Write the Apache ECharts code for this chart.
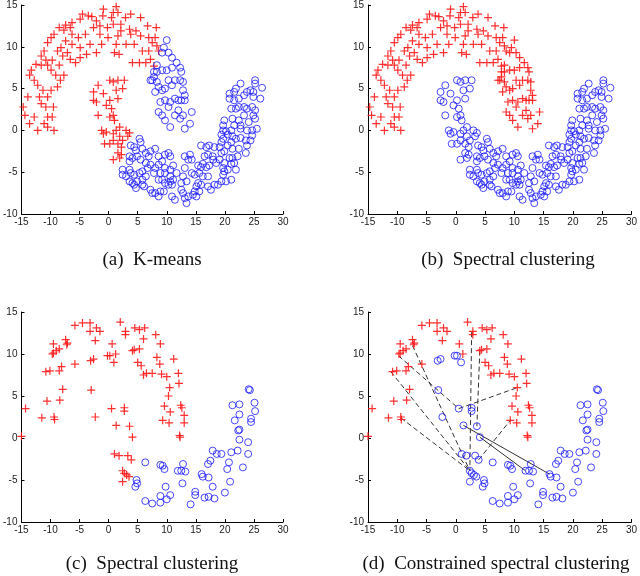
<!DOCTYPE html>
<html>
<head>
<meta charset="utf-8">
<script src="https://cdn.jsdelivr.net/npm/echarts@6/dist/echarts.min.js"></script>
<style>
  html, body { margin: 0; padding: 0; background: #fff; }
  #chart { width: 640px; height: 576px; }
</style>
</head>
<body>
<div id="chart"></div>
<script>
// two-moons data, panels (a) and (b) share the points, only the labels differ
var abUpperLeft = [
  [1.3,14.8],[0.8,14.1],[1.6,14.1],[0.5,13.5],[-0.9,14.5],[-1,13.7],[3.8,13.9],[2.9,13.5],[5.5,13.5],[6.7,12.5],
  [8.2,12.3],[-2.9,13.6],[-3.5,13.7],[-4.5,13.9],[-4.9,13.3],[-6.3,12.9],[-7.4,12.6],[-7.7,12],[-8.5,12.3],[-9.4,11.5],
  [-9.9,11.1],[-10.5,10.5],[-11.1,9.5],[-11.6,8.9],[-12.5,7.9],[-13.3,7.2],[-13.6,6.6],[-12.8,6],[-12.2,5.4],[-13.9,4],
  [-14.7,2.8],[-14.4,1.8],[-13.6,0.8],[-12.8,1.6],[-12.2,0],[-11.1,0.8],[-10.5,1.6],[-10.5,0.4],[-9.4,0],[-9.7,1.6],
  [-9.5,2.8],[-10.8,2.8],[-11.6,3.2],[-11.9,4],[-11.3,4.8],[-10.5,4],[-9.9,4.8],[-8.8,5.2],[-8.3,6],[-7.7,6.6],
  [-9.1,6.6],[-9.9,7.2],[-10.5,7.8],[-11.6,7.8],[-10.8,8.4],[-9.7,8.4],[-8.5,7.8],[-7.9,8.9],[-7.1,9.3],[-6.6,8.5],
  [-5.7,8.1],[-4.9,8.7],[-3.8,9.1],[-2.1,9.3],[-1.2,10.3],[-0.1,11.1],[-1.5,11.5],[-2.6,12.3],[-4,11.5],[-5.2,11.1],
  [-6.3,10.3],[-7.4,10.7],[-8.2,9.9],[-6.3,11.5],[-6.6,12.3],[-8.8,9.5],[-4.9,9.9],[-3.2,10.3],[1.3,10.3],[1.8,9.1],
  [1,9.3],[3,10.3],[4.4,10.3],[4.1,8.1],[5.3,8.1],[5.8,9.5],[6.9,9.5],[7.5,10.5],[8.3,10.1],[8,11.1],
  [6.9,11.1],[5.5,11.3],[4.7,11.9],[3.8,11.5],[3.6,12.1],[2.1,11.9],[2.1,12.7],[1.6,11.3],[0.8,12.7],[-0.2,12.3],
  [-1.5,12.5],[-2.1,13.1],[6.4,8.1],[7.2,8.5],[7.8,7.7],[8.6,9.5]
];
var abUpperRight = [
  [10,10.8],[9.5,9.9],[9.2,9.3],[10.3,9.3],[10.9,8.7],[11.7,8.1],[12.3,7.5],[10.9,7.5],[10,7.2],[9.2,7.2],
  [8.3,7.8],[8.3,7],[7.8,6.4],[7.5,6],[8.3,5.8],[8.6,5.2],[9.2,4.8],[9.7,5],[10.3,6],[10.9,5.4],
  [11.4,6],[12.3,6],[12.8,5.8],[12.5,7],[12.8,4.8],[13.1,4.2],[12,3.6],[11.4,3.8],[10.6,3.4],[9.7,3.6],
  [8.9,3.4],[8.6,2.2],[9.2,1.8],[9.7,1.2],[10.6,0.4],[11.4,1.8],[12.3,1.4],[12.8,1.8],[13.1,0.2],[14.3,2.2],
  [14,0.8],[12.5,3.6],[7.8,7],[7.2,6],[8,4.6],[10.3,2.8],[12,2.4],[13.1,3.6]
];
var abInner = [
  [-1.8,5.4],[-2.6,4.6],[-2.1,3.4],[-2.6,3.6],[-1.8,1.8],[-0.9,4.4],[0.2,6],[0.8,5.8],[1.6,6],[2.7,6],
  [2.4,5],[1.3,4.8],[1.6,3.8],[0.2,3.6],[-0.4,3],[0.5,2.6],[0.8,1.8],[0.2,1.6],[1,1.2],[1.9,0.4],
  [-1.2,0],[-0.9,-0.4],[-0.4,-0.2],[-0.7,-1.6],[0.8,-0.4],[1.3,0],[1.9,-0.7],[0.8,-1.2],[1.6,-1.6],[2.2,-2],
  [2.4,-1.2],[3,0],[3.3,-0.7],[2.2,-2.9],[1.6,-2.7],[0.8,-3.5],[1.9,-3.3],[0.2,-1.6],[3.6,-0.3]
];
var abLower = [
  [3.8,-1.8],[4.7,-2.4],[5.3,-1],[5.5,-1.4],[4.4,-2],[5.8,-2.2],[6.4,-2.7],[7.2,-2.5],[8,-2.2],[6.9,-3.1],
  [8.6,-3.1],[9.7,-2.9],[10.6,-3.1],[10.3,-2.7],[3.6,-3.1],[3.6,-3.7],[4.1,-3.3],[4.9,-3.1],[5.5,-3.5],[6.4,-3.9],
  [7.2,-4.1],[8,-4.5],[8.6,-4.1],[9.2,-3.7],[9.7,-4.5],[10.6,-4.7],[8.9,-5.1],[7.8,-5.1],[6.7,-4.5],[5.8,-4.9],
  [5.3,-5.1],[4.4,-5.3],[3.8,-5.1],[3.6,-4.7],[2.4,-4.7],[2.4,-5.3],[3,-5.5],[3.6,-6.1],[4.1,-6.3],[4.4,-6.5],
  [4.9,-6.1],[4.7,-6.9],[5.8,-5.9],[6.1,-6.7],[5.8,-6.5],[6.4,-5.5],[7.2,-7.1],[7.5,-7.5],[8,-7.5],[8.6,-7.9],
  [8.9,-7.3],[9.5,-7.3],[9.7,-6.3],[10.3,-6.5],[10.6,-5.5],[11.1,-5.9],[10.9,-6.5],[11.7,-5.1],[11.1,-4.2],[10.6,-6.1],
  [10.9,-7.9],[11.4,-8.3],[12.5,-7.1],[12.8,-7.5],[13.1,-8.1],[13.4,-8.7],[13.7,-7.9],[12.5,-6.3],[12.8,-5.5],[13.4,-6.1],
  [13.1,-4.5],[13.1,-3.1],[14,-2.9],[14.3,-3.5],[14.3,-5.1],[14.5,-7.7],[14.8,-7.3],[15.1,-6.7],[15.4,-6.3],[15.9,-6.5],
  [15.6,-7.3],[15.1,-7.9],[15.6,-5.1],[15.9,-4.4],[15.4,-4.2],[16.2,-4],[16.8,-4.4],[17.3,-4.2],[17.1,-5.5],[16.2,-5.5],
  [15.9,-1.8],[16.8,-2],[16.5,-3.1],[17.1,-2.9],[17.3,-1.8],[18.2,-2],[17.9,-3.1],[19.1,-2],[19.4,-1.4],[19.1,-3.5],
  [18,-3.5],[18.5,-3.9],[17.1,-6.7],[17.6,-7.1],[18.2,-6.5],[18.8,-6.5],[19.4,-6.1],[19.7,-5.3],[19.7,-4.5],[19.9,-3.9],
  [19.9,-4.9],[20.5,-4.7],[20.2,-6.1],[21.1,-5.9],[21.1,-4],[21.6,-3.9],[21.9,-4.7],[22.2,-3.1],[21.3,-3.3],[20.8,-3.3],
  [19.4,-2.7],[19.9,-2.5],[20.5,-1.8],[21.1,-1.4],[21.3,-2.2],[22.4,-2.2],[23.6,-2.7],[23.8,-1.8],[24.4,-1.2],[23.6,-1.2],
  [22.7,-0.9],[21.9,-1],[21.3,-0.7],[20.5,-0.5],[19.7,-1],[19.4,-0.5],[19.7,0],[19.7,0.6],[19.9,1.2],[20.2,-0.1],
  [21.1,0],[21.6,0.6],[21.3,1.4],[22.4,1.2],[22.7,0.6],[22.7,0.2],[23.8,0],[24.7,0],[24.7,-0.6],[25.5,0.2],
  [25.2,1.4],[24.9,1.8],[25.2,2.4],[24.7,2.8],[23.8,2.6],[23.3,1.8],[24.1,1],[23.3,2.8],[22.4,2.8],[21.9,2.6],
  [21.1,2.6],[20.8,3.8],[21.6,4.6],[21.9,5],[22.7,5.6],[22.4,3.8],[23.3,4.2],[23.8,4.6],[24.4,4.8],[24.9,4.6],
  [25.2,6],[25.2,5.6],[26.4,5.1],[26.1,3.8],[24.9,4],[20.8,4.4],[21.6,3.6],[13.7,-3.5],[14.8,-5.3],[8.6,-5.9],
  [9.2,-5.9],[9.7,-5.1]
];

// subsampled data, panels (c) and (d)
var cdUpper = [
  [-14.3,3.5],[-15,0.2],[-11.5,2.4],[-10.6,4.4],[-10.8,7.9],[-10.1,8],[-9.7,10],[-9.5,10.1],[-9.5,11.2],[-9,10.4],
  [-8.5,10.6],[-8.5,8],[-8.1,8.5],[-8.4,4.5],[-7.9,5.8],[-9.4,2.5],[-9.3,2.2],[-7.4,11.7],[-7.2,11.1],[-7.1,11.3],
  [-5.8,8.8],[-5.8,13.4],[-4.5,13.7],[-3.2,13.7],[-3.2,12.7],[-2.3,11.6],[-2.1,13.1],[-1.5,12.7],[0.6,11.2],[1.2,10],
  [2,13.8],[2.9,12.7],[2.9,12.3],[4.1,10.4],[4.4,10.5],[4.5,13.1],[5.3,12.9],[6.2,13.1],[5.3,10.6],[5,9],
  [5.6,8.6],[6,11.8],[6,7.5],[6.5,7.7],[7.5,7.7],[8.1,12.3],[8.3,9.6],[8.8,8.8],[8.9,11.2],[9.1,7.6],
  [9.3,2.1],[9.6,3.8],[10,7.3],[10.3,5],[10.4,1.8],[10.5,6],[10.6,3.1],[11.2,9.4],[12,7.7],[12.1,6.5],
  [12.2,0.3],[12.3,0.1],[12.4,3.9],[12.6,3.6],[13,2.7],[13,1.8]
];
var cdInner = [
  [-3.1,9.2],[-2.6,9.4],[-0.2,9.8],[0.2,9.8],[0.9,9],[-3,5.7],[-2.3,2.5],[0.5,3.5],[1.3,1.5],[2.7,3.6],
  [2.7,3.2],[3.6,1.4],[4.1,0.1],[1,-1.9],[1.8,-2.1],[3.3,-2.1],[3.9,-2.6],[2.4,-3.9],[2.7,-4.2],[3.1,-4.4],
  [3.5,-4.6],[2.4,-5.2]
];
var cdLower = [
  [4.8,-5],[4.9,-5.4],[4.6,-5.8],[6.3,-2.9],[6.3,-7.5],[7.5,-7.8],[8.9,-3.2],[9.3,-3.3],[9.6,-3.7],[9.8,-5.8],
  [8.9,-6.9],[8.9,-7.7],[10,-7.3],[10.6,-6.8],[11.9,-3.9],[12.5,-3.9],[13.2,-4],[12.8,-3.1],[12.7,-5.4],[14.1,-7.9],
  [14.9,-6.4],[14.9,-6.8],[16,-4.3],[16.2,-4.6],[16.5,-7.1],[17.2,-7],[17.1,-3.1],[17.5,-2.7],[17.2,-4.7],[17.9,-1.5],
  [17.9,-5.8],[18.2,-7.2],[18.6,-1.9],[19.4,-1.9],[20,-6.5],[20.4,-3.7],[20.7,-2.9],[20.9,-5.2],[21.1,-1.7],[21.3,3.9],
  [21.7,2.1],[22.2,-1.5],[22.3,0.9],[22.5,1],[22.5,4],[22.5,2.8],[22.5,-0.2],[23.1,-3.5],[24,-0.5],[24,-1.9],
  [24.1,5.8],[24.3,5.7],[24.5,2.3],[24.5,1.9],[25.1,4.2],[25.2,3.2]
];

// pairwise constraints drawn in panel (d)
var cannotLinks = [
  [[-9.8,9.8],[0.5,3.5]],
  [[-7.4,11],[2.4,-3.9]],
  [[-11.1,7.9],[2.4,-3.9]],
  [[-9.4,2.4],[2.4,-3.9]],
  [[0.5,3.5],[10.5,6]],
  [[2.7,12.6],[2.4,-3.9]],
  [[4.1,10.4],[3.6,1.4]],
  [[3.9,-2.6],[9.3,2.1]]
];
var mustLinks = [
  [[1.3,1.5],[16,-4.3]],
  [[4.1,0.1],[11.9,-3.9]]
];

var captions = ['(a)  K-means', '(b)  Spectral clustering', '(c)  Spectral clustering', '(d)  Constrained spectral clustering'];
var captionX = [147, 503, 147, 491];

var plusPath = 'path://M-0.6,-4H0.6V-0.6H4V0.6H0.6V4H-0.6V0.6H-4V-0.6H-0.6Z';
var grids = [
  {left: 17, top: 4, width: 266, height: 210},
  {left: 368, top: 4, width: 267, height: 210},
  {left: 17, top: 312, width: 266, height: 210},
  {left: 368, top: 312, width: 267, height: 210}
];

function xAx(i) {
  return {
    gridIndex: i, type: 'value', min: -15, max: 30, interval: 5,
    axisLine: {onZero: false, lineStyle: {color: '#000', width: 1}},
    axisTick: {inside: true, length: 3, lineStyle: {color: '#000'}},
    axisLabel: {fontFamily: 'Liberation Sans', fontSize: 10, color: '#222', margin: 3},
    splitLine: {show: false}
  };
}
function yAx(i) {
  return {
    gridIndex: i, type: 'value', min: -10, max: 15, interval: 5,
    axisLine: {show: true, onZero: false, lineStyle: {color: '#000', width: 1}},
    axisTick: {show: true, inside: true, length: 3, lineStyle: {color: '#000'}},
    axisLabel: {fontFamily: 'Liberation Sans', fontSize: 10, color: '#222', margin: 4},
    splitLine: {show: false}
  };
}
function reds(i, data) {
  return {
    type: 'scatter', xAxisIndex: i, yAxisIndex: i, data: data,
    symbol: plusPath, symbolSize: 8, silent: true,
    itemStyle: {color: '#ff1a1a', opacity: 0.9}
  };
}
function blues(i, data) {
  return {
    type: 'scatter', xAxisIndex: i, yAxisIndex: i, data: data,
    symbol: 'circle', symbolSize: 7, silent: true,
    itemStyle: {color: 'rgba(0,0,0,0)', borderColor: '#1a1aff', borderWidth: 1}
  };
}
function links(data, dashed) {
  return {
    type: 'lines', coordinateSystem: 'cartesian2d', xAxisIndex: 3, yAxisIndex: 3,
    data: data.map(function (p) { return {coords: p}; }),
    silent: true, z: 1,
    lineStyle: {color: '#333', width: 1, opacity: 1, type: dashed ? [5, 3] : 'solid'}
  };
}

var chart = echarts.init(document.getElementById('chart'));
chart.setOption({
  animation: false,
  title: captions.map(function (c, i) {
    return {
      text: c, left: captionX[i], top: i < 2 ? 246 : 550, textAlign: 'center',
      textStyle: {fontFamily: 'Liberation Serif', fontSize: 19, fontWeight: 'normal', color: '#111'}
    };
  }),
  grid: grids,
  xAxis: [xAx(0), xAx(1), xAx(2), xAx(3)],
  yAxis: [yAx(0), yAx(1), yAx(2), yAx(3)],
  series: [
    reds(0, abUpperLeft.concat(abInner)),
    blues(0, abUpperRight.concat(abLower)),
    reds(1, abUpperLeft.concat(abUpperRight)),
    blues(1, abInner.concat(abLower)),
    reds(2, cdUpper.concat(cdInner)),
    blues(2, cdLower),
    links(cannotLinks, true),
    links(mustLinks, false),
    reds(3, cdUpper),
    blues(3, cdInner.concat(cdLower))
  ]
});
</script>
</body>
</html>
